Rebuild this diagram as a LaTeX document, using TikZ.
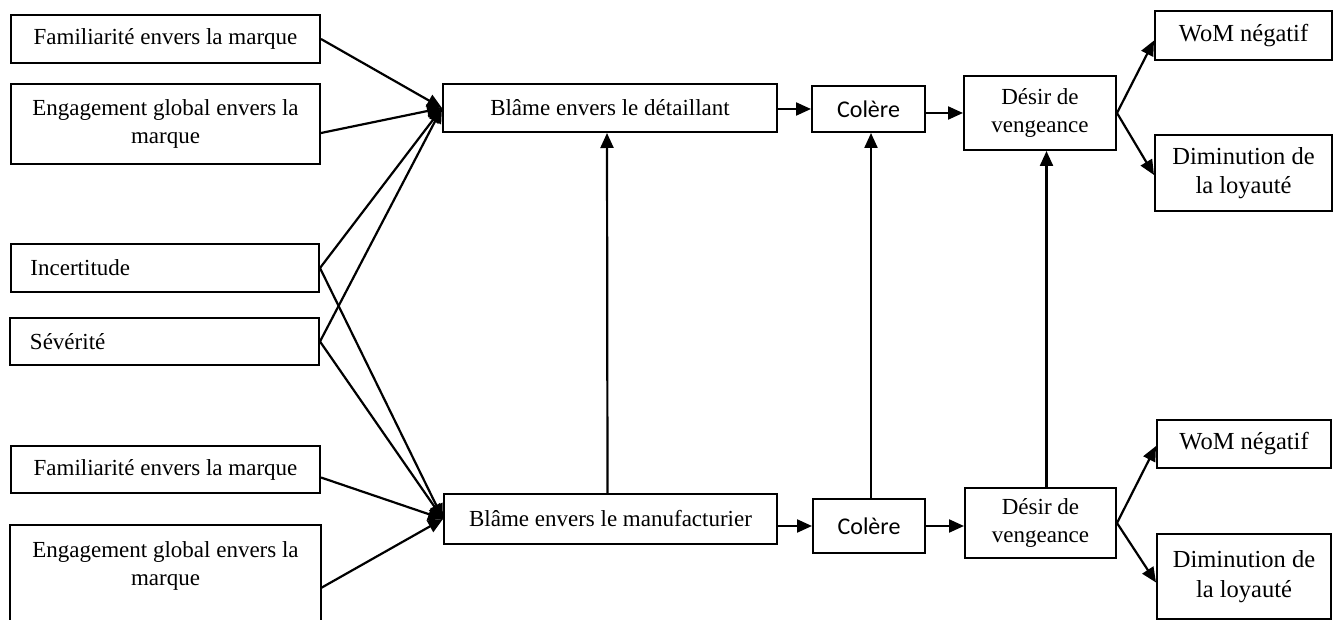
\documentclass[tikz,border=0pt]{standalone}
\usepackage{fontspec}
\setmainfont{Liberation Serif}
\newfontfamily\calfont{Carlito}
\usetikzlibrary{arrows.meta}
\begin{document}
\begin{tikzpicture}[x=1pt,y=1pt,
  box/.style={draw, line width=2pt, inner sep=0pt, align=center, anchor=north west,
    font=\fontsize{23}{28}\selectfont},
  sans/.style={font=\calfont\fontsize{24}{29}\selectfont},
  big/.style={font=\fontsize{24.5}{29.5}\selectfont},
  lbox/.style={align=left, text width=269pt},
  conn/.style={line width=2.2pt, -{Triangle[length=15pt,width=13pt]}},
  plain/.style={line width=2pt}
]
\clip (0,0) rectangle (1334,-620);
\fill[white] (0,0) rectangle (1334,-620);

% left column
\node[box, minimum width=309pt, minimum height=48pt] (F1) at (10,-14) {Familiarité envers la marque};
\node[box, minimum width=309pt, minimum height=80pt] (E1) at (10,-83) {Engagement global envers la\\marque};
\node[box, lbox, minimum width=308pt, minimum height=48pt] (Inc) at (10,-243) {Incertitude};
\node[box, lbox, minimum width=309pt, minimum height=47pt] (Sev) at (9,-317) {Sévérité};
\node[box, minimum width=309pt, minimum height=47pt] (F2) at (10,-445) {Familiarité envers la marque};
\node[box, draw=none, minimum width=309pt, minimum height=80pt] (E2) at (10,-525) {Engagement global envers la\\marque};
\draw[plain] ([yshift=-40pt]E2.south west) -- (E2.north west) -- (E2.north east) -- ([yshift=-40pt]E2.south east);

% blame
\node[box, minimum width=334pt, minimum height=48pt] (BD) at (442,-83) {Blâme envers le détaillant};
\node[box, minimum width=333pt, minimum height=50pt] (BM) at (443,-493) {Blâme envers le manufacturier};

% top chain
\node[box, sans, minimum width=113pt, minimum height=46pt] (CT) at (811,-85) {Colère};
\node[box, minimum width=152pt, minimum height=74pt] (DT) at (963,-75) {Désir de\\vengeance};
\node[box, big, minimum width=177pt, minimum height=49pt] (WT) at (1154,-10) {WoM négatif};
\node[box, big, minimum width=177pt, minimum height=76pt] (DimT) at (1154,-134) {Diminution de\\la loyauté};

% bottom chain
\node[box, sans, minimum width=112pt, minimum height=54pt] (CB) at (812,-498) {Colère};
\node[box, minimum width=151pt, minimum height=70pt] (DB) at (964,-487) {Désir de\\vengeance};
\node[box, big, minimum width=174pt, minimum height=48pt] (WB) at (1156,-419) {WoM négatif};
\node[box, big, minimum width=174pt, minimum height=85pt] (DimB) at (1156,-533) {Diminution de\\la loyauté};

% left connectors
\draw[conn] (F1.east) -- (BD.west);
\draw[conn] ([yshift=-9pt]E1.east) -- (BD.west);
\draw[conn] (Inc.east) -- (BD.west);
\draw[conn] (Sev.east) -- (BD.west);
\draw[conn] (Inc.east) -- (BM.west);
\draw[conn] (Sev.east) -- (BM.west);
\draw[conn] ([yshift=-8pt]F2.east) -- (BM.west);
\draw[conn] ([yshift=-22pt]E2.east) -- (BM.west);

% chains
\draw[conn] (BD.east |- CT.west) -- (CT.west);
\draw[conn] (CT.east |- DT.west) -- (DT.west);
\draw[conn] (BM.east |- CB.west) -- (CB.west);
\draw[conn] (CB.east) -- (CB.east -| DB.west);

% verticals
\draw[conn] ([xshift=-3pt]BM.north) -- ([xshift=-3pt]BD.south);
\draw[conn] ([xshift=2pt]CB.north) -- ([xshift=2pt]CB.north |- CT.south);
\draw[conn] ([xshift=6pt]DB.north) -- ([xshift=6pt]DB.north |- DT.south);

% fans
\draw[conn] (DT.east) -- ([yshift=-5pt]WT.west);
\draw[conn] (DT.east) -- ([yshift=-2pt]DimT.west);
\draw[conn] (DB.east) -- ([yshift=-2pt]WB.west);
\draw[conn] (DB.east) -- ([yshift=-6pt]DimB.west);
\end{tikzpicture}
\end{document}
